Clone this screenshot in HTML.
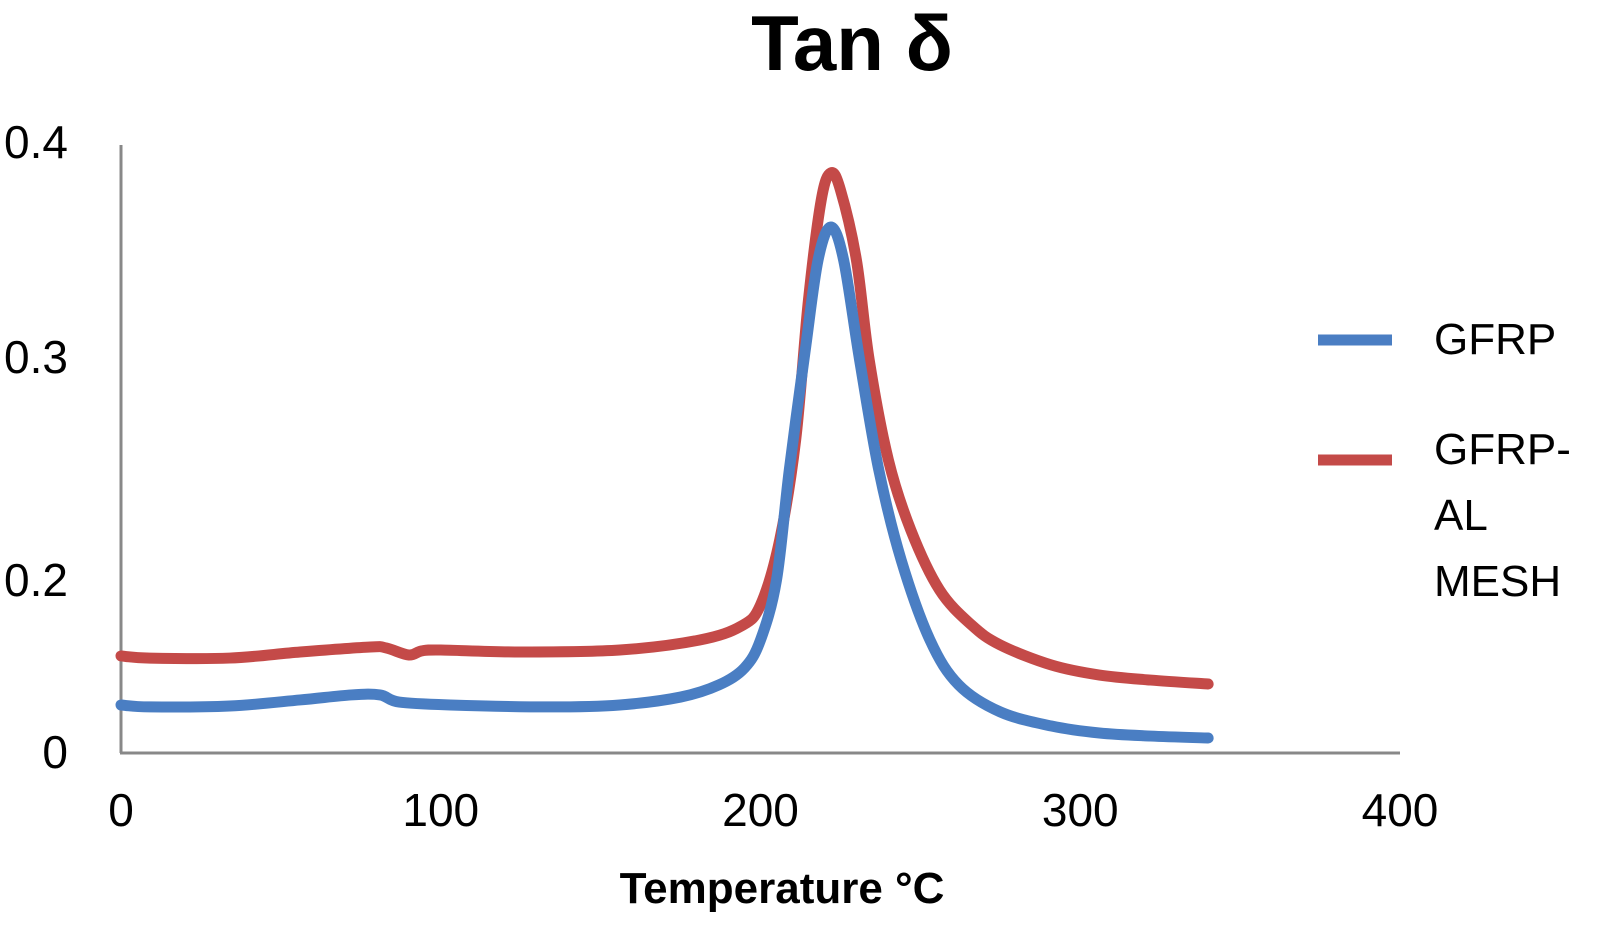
<!DOCTYPE html>
<html><head><meta charset="utf-8"><style>
html,body{margin:0;padding:0;background:#fff}
svg{display:block;font-family:"Liberation Sans",sans-serif}
</style></head><body>
<svg id="chart" width="1614" height="944" viewBox="0 0 1614 944">
<text x="852" y="70" font-size="78" font-weight="bold" text-anchor="middle">Tan δ</text>
<line x1="121" y1="145" x2="121" y2="753" stroke="#888" stroke-width="3"/>
<line x1="120" y1="753" x2="1400" y2="753" stroke="#888" stroke-width="3"/>
<g id="yticks" font-size="46" text-anchor="end"></g>
<g id="xticks" font-size="46" text-anchor="middle"></g>
<g id="series"></g>
<text x="782" y="903" font-size="44" font-weight="bold" text-anchor="middle">Temperature °C</text>
<g font-size="44">
<line x1="1318" y1="340" x2="1392" y2="340" stroke="#4a7ec3" stroke-width="11"/>
<text x="1434" y="354">GFRP</text>
<line x1="1318" y1="460" x2="1392" y2="460" stroke="#c44a48" stroke-width="11"/>
<text x="1434" y="464">GFRP-</text>
<text x="1434" y="530">AL</text>
<text x="1434" y="596">MESH</text>
</g>
</svg>
<script>
const xTicks=[0,100,200,300,400];
const yTickLabels=["0","0.2","0.3","0.4"];
const yTickPos=[0,0.2,0.3,0.4];
const redT=[0,9,34,56,78,83,90,94,100,125,156,181,194,200,206,211,215,219,222,225,230,234,240,247,256,266,275,291,306,322,340];
const redV=[.0633,.0619,.0619,.0659,.0692,.0685,.0639,.0666,.0672,.0659,.0672,.0738,.0830,.0969,.1397,.2056,.2979,.3638,.3816,.3704,.3242,.2583,.1924,.1463,.1068,.0837,.0705,.0573,.0507,.0474,.0448];
const blueT=[0,9,34,56,72,81,87,103,134,156,175,187,195,200,205,209,214,218,222,226,231,237,244,253,262,275,291,306,322,340];
const blueV=[.0310,.0297,.0303,.0343,.0376,.0376,.0329,.0310,.0297,.0310,.0362,.0442,.0554,.0738,.1133,.1858,.2649,.3242,.3460,.3242,.2583,.1858,.1265,.0738,.0442,.0264,.0171,.0125,.0105,.0092];
const NS="http://www.w3.org/2000/svg";
function xs(t){return 121+t*(1400-121)/400;}
function ys(v){return 752-v*(752-145)/0.4;}
const yLabelY=[752,580,357,142];
const yg=document.getElementById('yticks');
yTickLabels.forEach((l,i)=>{const t=document.createElementNS(NS,'text');


t.setAttribute('x',68);t.setAttribute('y',yLabelY[i]+16);t.textContent=l;yg.appendChild(t);});
const xg=document.getElementById('xticks');
xTicks.forEach(v=>{const t=document.createElementNS(NS,'text');


t.setAttribute('x',xs(v));t.setAttribute('y',826);t.textContent=v;xg.appendChild(t);});
function path(T,V){const p=T.map((t,i)=>[xs(t),ys(V[i])]);let d='M'+p[0][0]+','+p[0][1];
for(let i=0;i<p.length-1;i++){const a=p[i-1]||p[i],b=p[i],c=p[i+1],e=p[i+2]||c;
d+=' C'+(b[0]+(c[0]-a[0])/6)+','+(b[1]+(c[1]-a[1])/6)+' '+(c[0]-(e[0]-b[0])/6)+','+(c[1]-(e[1]-b[1])/6)+' '+c[0]+','+c[1];}return d;}
const sg=document.getElementById('series');
[[redT,redV,'#c44a48','series-gfrp-al-mesh'],[blueT,blueV,'#4a7ec3','series-gfrp']].forEach(s=>{
const el=document.createElementNS(NS,'path');


el.setAttribute('d',path(s[0],s[1]));el.setAttribute('fill','none');el.setAttribute('stroke',s[2]);
el.setAttribute('stroke-width','11');el.setAttribute('stroke-linecap','round');el.setAttribute('stroke-linejoin','round');
sg.appendChild(el);});
</script>
</body></html>
